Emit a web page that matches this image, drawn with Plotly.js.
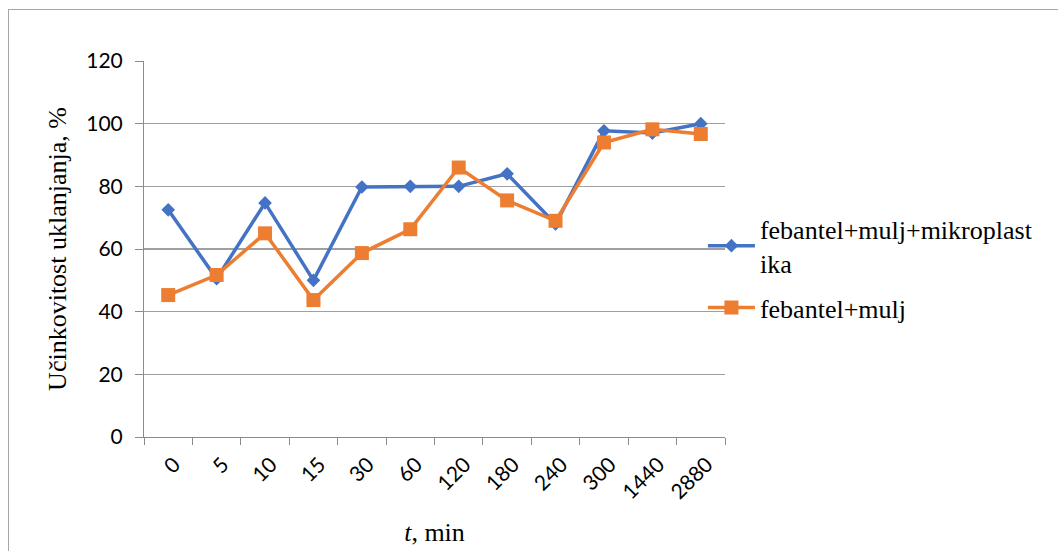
<!DOCTYPE html>
<html>
<head>
<meta charset="utf-8">
<script src="https://cdn.plot.ly/plotly-3.0.1.min.js"></script>
<style>
html,body{margin:0;padding:0;background:#fff;}
#wrap{position:relative;width:1058px;height:551px;}
#chart{width:1058px;height:551px;}
#frame{position:absolute;left:8px;top:9px;width:1050px;height:542px;border-top:1.5px solid #a6a6a6;border-left:1.5px solid #a6a6a6;pointer-events:none;}
</style>
</head>
<body>
<div id="wrap"><div id="chart"></div><div id="frame"></div></div>
<script>
const categories = ["0","5","10","15","30","60","120","180","240","300","1440","2880"];
const seriesMikro = [72.5, 50.5, 74.7, 50, 79.8, 80, 80, 84, 68, 97.7, 97, 100];
const seriesMulj = [45.3, 51.7, 65, 43.7, 58.7, 66.3, 86, 75.5, 69, 94, 98.2, 96.7];
const nameMikro = "febantel+mulj+mikroplast<br>ika";
const nameMulj = "febantel+mulj";
const yTicks = [0, 20, 40, 60, 80, 100, 120];

const serif = "Liberation Serif";
const sans = "Lato";

const traces = [
  {x: categories, y: seriesMikro, name: nameMikro, legendgroup: "g1", type: "scatter", mode: "lines+markers",
   line: {color: "#4472C4", width: 3.5}, marker: {symbol: "diamond", size: 10.5, color: "#4472C4"}},
  {x: categories, y: seriesMulj, name: nameMulj, legendgroup: "g2", type: "scatter", mode: "lines+markers",
   line: {color: "#ED7D31", width: 3.5}, marker: {symbol: "square", size: 14, color: "#ED7D31"}}
];

const layout = {
  width: 1058, height: 551,
  margin: {l: 144, r: 333, t: 61, b: 114},
  paper_bgcolor: "#fff", plot_bgcolor: "#fff",
  showlegend: true,
  legend: {x: 0.962, xanchor: "left", y: 0.616, yanchor: "top",
           font: {family: serif, size: 26, color: "#000"},
           tracegroupgap: 8, itemwidth: 47, bgcolor: "rgba(0,0,0,0)"},
  xaxis: {type: "category", range: [-0.5, 11.5], tickson: "boundaries", ticks: "outside", ticklen: 7, tickcolor: "#8c8c8c",
          showline: true, linecolor: "#8c8c8c", linewidth: 1, showgrid: false, zeroline: false,
          tickangle: -45, ticklabelstandoff: 6, ticklabelshift: 6, tickfont: {family: sans, size: 21, color: "#000"},
          title: {text: "<i>t</i>, min", font: {family: serif, size: 26, color: "#000"}, standoff: 20}},
  yaxis: {range: [0, 120], tickvals: yTicks, ticks: "outside", ticklen: 8, tickcolor: "#8c8c8c",
          ticklabelstandoff: 8,
          showline: true, linecolor: "#8c8c8c", linewidth: 1, showgrid: true, gridcolor: "#a0a0a0", gridwidth: 1.3,
          zeroline: false, tickfont: {family: sans, size: 21, color: "#000"},
          title: {text: "Učinkovitost uklanjanja, %", font: {family: serif, size: 26, color: "#000"}, standoff: 12}}
};

Plotly.newPlot("chart", traces, layout, {displayModeBar: false, staticPlot: true});
</script>
</body>
</html>
